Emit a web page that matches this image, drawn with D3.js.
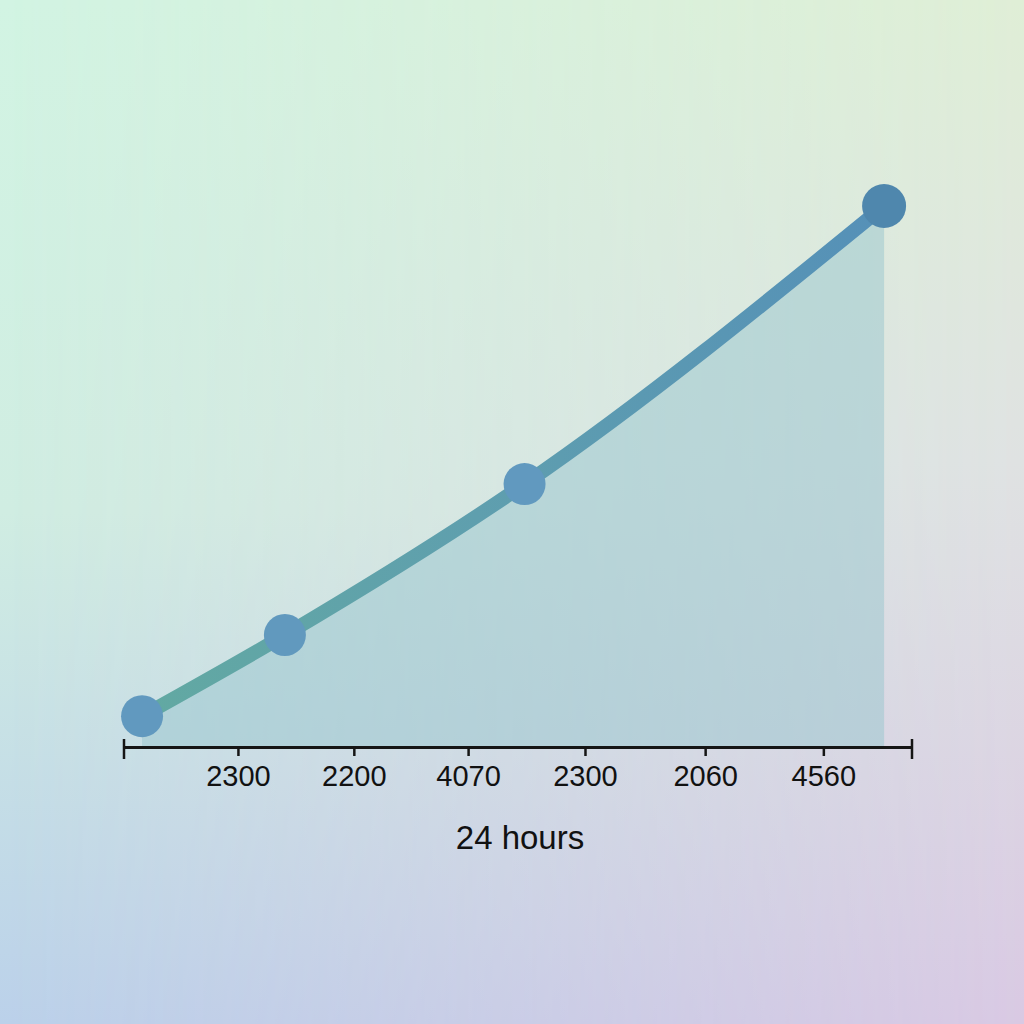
<!DOCTYPE html>
<html>
<head>
<meta charset="utf-8">
<script src="https://cdn.jsdelivr.net/npm/d3@7"></script>
<style>
body { margin:0; padding:0; overflow:hidden; }
svg { display:block; }
</style>
</head>
<body>
<svg></svg>
<script>
//points on the curve (hours along the day, level 0-100)
var hours = [0.55, 4.9, 12.2, 23.15];
var levels = [5.7, 20.7, 48.6, 100];
var dotColors = ["#6199bf", "#6199be", "#6199bf", "#4f87ad"];

//tick positions (in hours) and the labels printed under them
var tickHours = [3.47, 7.0, 10.48, 14.04, 17.7, 21.3];
var tickLabels = ["2300", "2200", "4070", "2300", "2060", "4560"];

var axisTitle = "24 hours";

var makeTranslateString = function(x,y)
{
    return "translate("+x+","+y+")";
}

var drawBackground = function(svg,screen)
{
    var defs = svg.append("defs");

    var left = defs.append("linearGradient")
        .attr("id","bgLeft")
        .attr("x1",0).attr("y1",0).attr("x2",0).attr("y2",1);
    left.append("stop").attr("offset","0%").attr("stop-color","#d2f4e3");
    left.append("stop").attr("offset","50%").attr("stop-color","#d0ede2");
    left.append("stop").attr("offset","100%").attr("stop-color","#bbd1ea");

    var right = defs.append("linearGradient")
        .attr("id","bgRight")
        .attr("x1",0).attr("y1",0).attr("x2",0).attr("y2",1);
    right.append("stop").attr("offset","0%").attr("stop-color","#dfeed6");
    right.append("stop").attr("offset","45%").attr("stop-color","#dfe2e2");
    right.append("stop").attr("offset","100%").attr("stop-color","#d9c9e3");

    var fade = defs.append("linearGradient")
        .attr("id","bgFade")
        .attr("x1",0).attr("y1",0).attr("x2",1).attr("y2",0);
    fade.append("stop").attr("offset","0%").attr("stop-color","white").attr("stop-opacity",0);
    fade.append("stop").attr("offset","100%").attr("stop-color","white").attr("stop-opacity",1);

    defs.append("mask").attr("id","bgMask")
        .append("rect")
        .attr("width",screen.width)
        .attr("height",screen.height)
        .attr("fill","url(#bgFade)");

    svg.append("rect")
        .attr("width",screen.width)
        .attr("height",screen.height)
        .attr("fill","url(#bgLeft)");

    svg.append("rect")
        .attr("width",screen.width)
        .attr("height",screen.height)
        .attr("fill","url(#bgRight)")
        .attr("mask","url(#bgMask)");

    //gradient used along the line, teal on the left to blue on the right
    var stroke = defs.append("linearGradient")
        .attr("id","lineGrad")
        .attr("gradientUnits","userSpaceOnUse")
        .attr("x1",140).attr("y1",0).attr("x2",890).attr("y2",0);
    stroke.append("stop").attr("offset","0%").attr("stop-color","#62a9a2");
    stroke.append("stop").attr("offset","45%").attr("stop-color","#5f9fae");
    stroke.append("stop").attr("offset","100%").attr("stop-color","#5590b8");
}

var drawCurve = function(points,target,xScale,yScale)
{
    var area = d3.area()
        .x(function(p){ return xScale(p.hour); })
        .y0(yScale(0))
        .y1(function(p){ return yScale(p.level); })
        .curve(d3.curveMonotoneX);

    target.append("path")
        .datum(points)
        .attr("d",area)
        .attr("fill","#98c6cd")
        .attr("fill-opacity",0.5);

    var line = d3.line()
        .x(function(p){ return xScale(p.hour); })
        .y(function(p){ return yScale(p.level); })
        .curve(d3.curveMonotoneX);

    target.append("path")
        .datum(points)
        .attr("d",line)
        .attr("fill","none")
        .attr("stroke","url(#lineGrad)")
        .attr("stroke-width",14)
        .attr("stroke-linecap","round");

    target.selectAll("circle")
        .data(points)
        .enter()
        .append("circle")
        .attr("cx",function(p){ return xScale(p.hour); })
        .attr("cy",function(p){ return yScale(p.level); })
        .attr("r",function(p,i){ return i==points.length-1 ? 22 : 21; })
        .attr("fill",function(p){ return p.color; });
}

var drawAxis = function(svg,xScale,yScale)
{
    var xAxis = d3.axisBottom(xScale)
        .tickValues(tickHours)
        .tickFormat(function(d,i){ return tickLabels[i]; })
        .tickSize(9)
        .tickSizeOuter(0)
        .tickPadding(9);

    var g = svg.append("g")
        .attr("transform",makeTranslateString(0,yScale(0)))
        .call(xAxis);

    g.select(".domain")
        .attr("stroke","#151515")
        .attr("stroke-width",2.8);
    g.selectAll(".tick line")
        .attr("stroke","#151515")
        .attr("stroke-width",2.5);
    g.selectAll(".tick text")
        .attr("fill","#111")
        .attr("font-family","'Liberation Sans', Arial, sans-serif")
        .attr("font-size",29);

    //end caps go above and below the axis line
    g.selectAll(".cap")
        .data(xScale.range())
        .enter()
        .append("line")
        .attr("x1",function(d){ return d; })
        .attr("x2",function(d){ return d; })
        .attr("y1",-8)
        .attr("y2",12)
        .attr("stroke","#151515")
        .attr("stroke-width",2.5);

    svg.append("text")
        .text(axisTitle)
        .attr("x",(xScale.range()[0]+xScale.range()[1])/2 + 2)
        .attr("y",yScale(0)+102)
        .attr("text-anchor","middle")
        .attr("fill","#111")
        .attr("font-family","'Liberation Sans', Arial, sans-serif")
        .attr("font-size",33);
}

var initGraph = function()
{
    var screen = {width:1024,height:1024};

    var svg = d3.select("svg")
        .attr("width",screen.width)
        .attr("height",screen.height);

    drawBackground(svg,screen);

    var xScale = d3.scaleLinear()
        .domain([0,24])
        .range([124,912]);

    var yScale = d3.scaleLinear()
        .domain([0,100])
        .range([747,206]);

    var points = hours.map(function(h,i)
    {
        return {hour:h, level:levels[i], color:dotColors[i]};
    });

    var target = svg.append("g").attr("id","graph");

    drawCurve(points,target,xScale,yScale);
    drawAxis(svg,xScale,yScale);
}

initGraph();
</script>
</body>
</html>
